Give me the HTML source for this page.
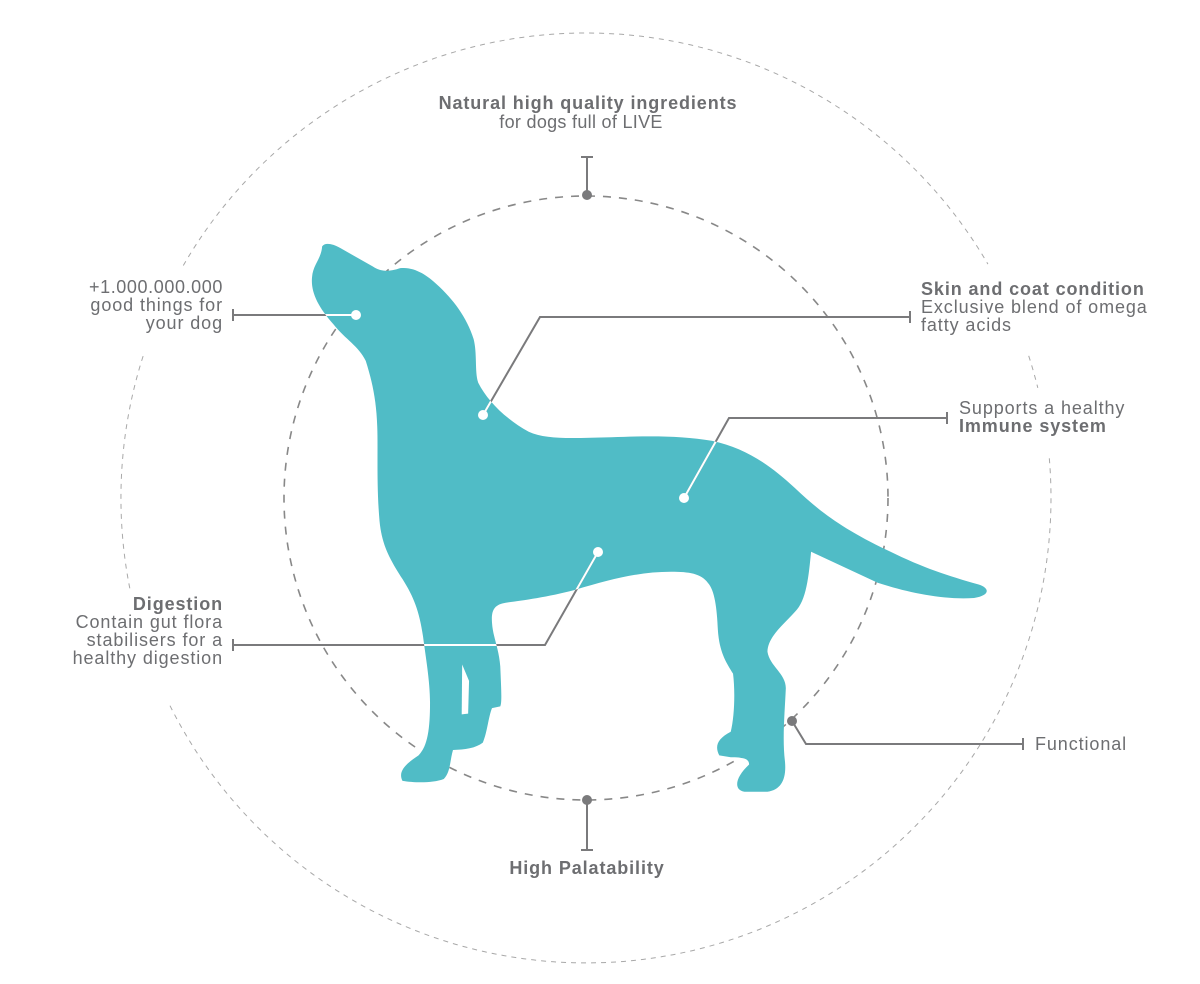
<!DOCTYPE html>
<html><head><meta charset="utf-8"><style>
html,body{margin:0;padding:0;background:#fff;}
svg{display:block;}
text{font-family:"Liberation Sans",Arial,sans-serif;font-size:18px;letter-spacing:0.9px;fill:#6d6e71;}
.b{font-weight:bold;}
</style></head><body>
<svg width="1200" height="984" viewBox="0 0 1200 984" xmlns="http://www.w3.org/2000/svg">
<defs>
<clipPath id="dogclip"><path id="dogp" transform="translate(290,230) scale(0.4591,0.3636)" d="M70,45 C75,35 90,35 110,50 L180,100 C195,112 210,118 240,105 C270,100 300,125 320,150 C355,190 385,240 400,300 C408,340 402,390 410,420 C430,470 470,520 520,555 C560,578 620,572 700,570 C780,566 850,565 920,580 C990,600 1040,640 1100,710 C1150,770 1200,820 1300,880 C1380,930 1430,950 1500,975 C1525,985 1525,1005 1490,1012 C1420,1018 1340,995 1280,970 L1135,885 C1130,950 1125,1020 1100,1050 C1075,1085 1040,1120 1040,1160 C1045,1200 1080,1220 1080,1260 C1078,1320 1072,1400 1078,1460 C1082,1510 1070,1540 1040,1545 L990,1545 C965,1540 970,1505 1000,1470 C1000,1455 990,1450 960,1450 L935,1445 C925,1420 930,1400 960,1380 C968,1340 970,1270 965,1220 C950,1190 935,1160 932,1100 C930,1040 925,990 910,970 C895,945 870,940 830,940 C760,940 700,960 620,990 C560,1010 500,1020 470,1025 C445,1030 438,1045 440,1080 C442,1120 455,1150 458,1200 C460,1260 462,1300 458,1310 L440,1315 C432,1340 430,1380 420,1410 C405,1425 380,1430 355,1430 C348,1460 350,1490 335,1510 C310,1522 270,1520 245,1515 C235,1490 250,1470 280,1445 C300,1420 305,1370 305,1300 C305,1240 295,1170 290,1120 C282,1050 270,1010 245,960 C220,910 200,870 195,800 C188,700 192,600 190,540 C188,470 180,420 165,360 C150,320 120,300 95,260 C60,210 45,170 48,130 C50,95 68,80 70,45 Z"/></clipPath>
</defs>
<g fill="none" stroke="#a8a8a8" stroke-width="1" stroke-dasharray="5 5">
<path d="M1049.3,458.3 A465,465 0 0 1 169.5,704.7"/>
<path d="M129.8,588.3 A465,465 0 0 1 143.7,354.3"/>
<path d="M183.3,265.5 A465,465 0 0 1 987.9,264.1"/>
<path d="M1028.7,355.8 A465,465 0 0 1 1037.8,387.9"/>
</g>
<circle cx="586" cy="498" r="302" fill="none" stroke="#888" stroke-width="1.6" stroke-dasharray="8 8"/>
<use href="#dogp" fill="#50bcc6"/>
<path transform="translate(290,230) scale(0.4591,0.3636)" d="M375,1195 L390,1240 L388,1330 L374,1332 Z" fill="#fff"/>
<g fill="none" stroke="#7a7a7c" stroke-width="2">
<path d="M356,315 L233,315 M233,309 L233,321"/>
<path d="M483,415 L540,317 L910,317 M910,311 L910,323"/>
<path d="M684,498 L729,418 L947,418 M947,412 L947,424"/>
<path d="M598,552 L545,645 L233,645 M233,639 L233,651"/>
<path d="M792,721 L806,744 L1023,744 M1023,738 L1023,750"/>
<path d="M587,195 L587,157 M581,157 L593,157"/>
<path d="M587,800 L587,850 M581,850 L593,850"/>
</g>
<g clip-path="url(#dogclip)" fill="none" stroke="#fff" stroke-width="2">
<path d="M356,315 L233,315"/>
<path d="M483,415 L540,317 L910,317"/>
<path d="M684,498 L729,418 L947,418"/>
<path d="M598,552 L545,645 L233,645"/>
</g>
<g fill="#fff">
<circle cx="356" cy="315" r="5"/><circle cx="483" cy="415" r="5"/><circle cx="684" cy="498" r="5"/><circle cx="598" cy="552" r="5"/>
</g>
<g fill="#7a7a7c">
<circle cx="792" cy="721" r="5"/><circle cx="587" cy="195" r="5"/><circle cx="587" cy="800" r="5"/>
</g>
<text x="588" y="109" text-anchor="middle" class="b">Natural high quality ingredients</text>
<text x="581" y="128" text-anchor="middle" style="letter-spacing:0.3px">for dogs full of LIVE</text>
<text x="587" y="874" text-anchor="middle" class="b">High Palatability</text>
<text x="223" y="293" text-anchor="end" style="letter-spacing:0.6px">+1.000.000.000</text>
<text x="223" y="311" text-anchor="end">good things for</text>
<text x="223" y="329" text-anchor="end">your dog</text>
<text x="223" y="610" text-anchor="end" class="b">Digestion</text>
<text x="223" y="628" text-anchor="end">Contain gut flora</text>
<text x="223" y="646" text-anchor="end">stabilisers for a</text>
<text x="223" y="664" text-anchor="end">healthy digestion</text>
<text x="921" y="295" class="b">Skin and coat condition</text>
<text x="921" y="313">Exclusive blend of omega</text>
<text x="921" y="331">fatty acids</text>
<text x="959" y="414">Supports a healthy</text>
<text x="959" y="432" class="b">Immune system</text>
<text x="1035" y="750">Functional</text>
</svg>
</body></html>
